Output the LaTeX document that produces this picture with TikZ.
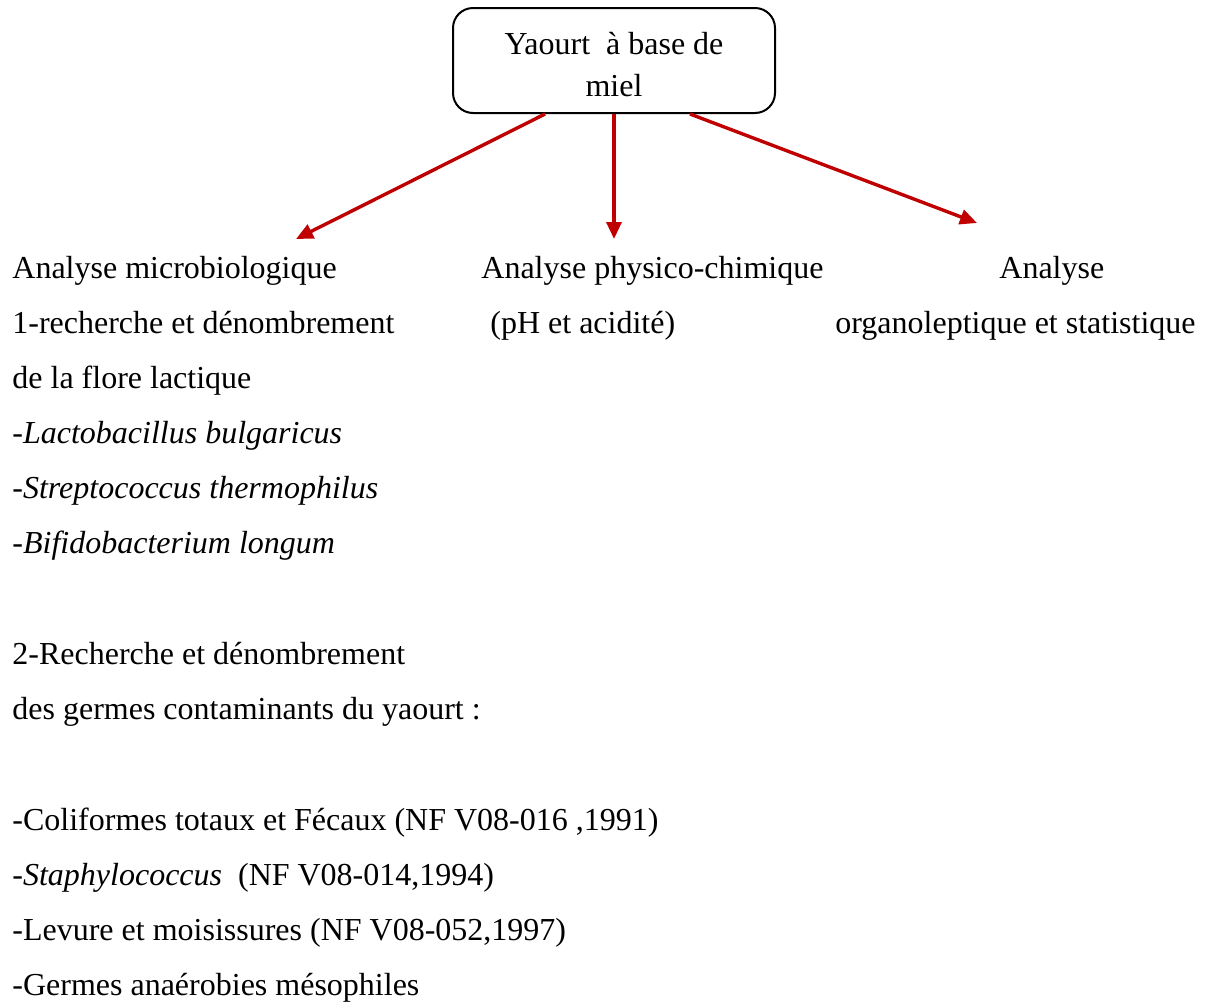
\documentclass[tikz,border=0pt]{standalone}
\usepackage{fontspec}
\setmainfont{Liberation Serif}
\usetikzlibrary{arrows.meta,calc}
\definecolor{arrred}{HTML}{C00000}
\begin{document}
\begin{tikzpicture}[x=0.5pt,y=-0.5pt,
  txt/.style={anchor=base west,inner sep=0pt,font=\fontsize{16}{19}\selectfont},
  mainbox/.style={draw,line width=1pt,rounded corners=10pt,minimum width=161pt,minimum height=52.5pt,align=center,font=\fontsize{16}{21}\selectfont,inner sep=0pt},
  arr/.style={draw=arrred,line width=1.7pt,-{Triangle[length=8.5pt,width=7.5pt]}}]
\useasboundingbox (0,0) rectangle (1205,1002);
\node[mainbox] (box) at (614,60.5) {\rule{0pt}{15.5pt}Yaourt\ \ à base de\\miel};

\node[txt] (m1) at (12,278) {Analyse microbiologique};
\node[txt] (m2) at (12,333) {1-recherche et dénombrement};
\node[txt] (m3) at (12,388) {de la flore lactique};
\node[txt] (m4) at (12,443) {-\textit{Lactobacillus bulgaricus}};
\node[txt] (m5) at (12,498) {-\textit{Streptococcus thermophilus}};
\node[txt] (m6) at (12,553) {-\textit{Bifidobacterium longum}};
\node[txt] (m7) at (12,664) {2-Recherche et dénombrement};
\node[txt] (m8) at (12,719) {des germes contaminants du yaourt :};
\node[txt] (m9) at (12,830) {-Coliformes totaux et Fécaux (NF V08-016 ,1991)};
\node[txt] (m10) at (12,885) {-\textit{Staphylococcus}\ \ (NF V08-014,1994)};
\node[txt] (m11) at (12,940) {-Levure et moisissures (NF V08-052,1997)};
\node[txt] (m12) at (12,995) {-Germes anaérobies mésophiles};

\node[txt] (p1) at (481,278) {Analyse physico-chimique};
\node[txt] (p2) at (490,333) {(pH et acidité)};

\node[txt] (o1) at (999,278) {Analyse};
\node[txt] (o2) at (835,333) {organoleptique et statistique};

\coordinate (t1) at (296,239);
\coordinate (t2) at (614,239);
\coordinate (t3) at (977,223);
\draw[arr] ($(box.south)+(-69,0)$) -- (t1);
\draw[arr] (box.south) -- (t2);
\draw[arr] ($(box.south)+(76,0)$) -- (t3);
\end{tikzpicture}
\end{document}
